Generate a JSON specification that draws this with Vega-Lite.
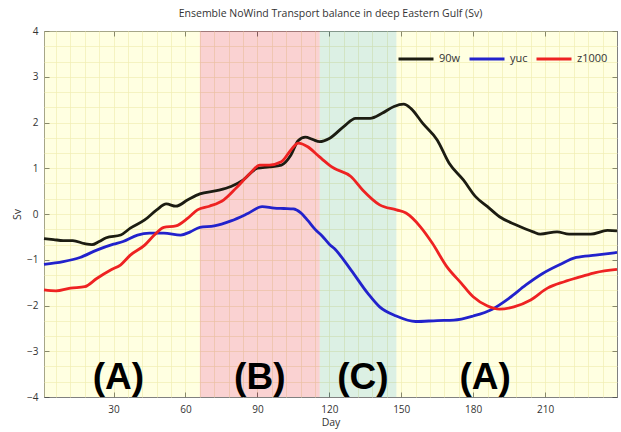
{
  "$schema": "https://vega.github.io/schema/vega-lite/v6.json",
  "width": 573,
  "height": 366,
  "autosize": {"type": "none"},
  "padding": {"left": 44, "top": 31, "right": 4, "bottom": 35},
  "title": {"text": "Ensemble NoWind Transport balance in deep Eastern Gulf (Sv)", "font": "Open Sans", "fontSize": 10.5, "fontWeight": "normal", "color": "#333333", "offset": 7, "anchor": "middle"},
  "config": {
    "view": {"stroke": "#808080", "strokeWidth": 1},
    "font": "Open Sans",
    "axis": {"labelFont": "Open Sans", "labelFontSize": 10, "labelColor": "#333333", "titleFont": "Open Sans", "titleFontSize": 10.5, "titleFontWeight": "normal", "titleColor": "#333333", "tickColor": "#555555"}
  },
  "datasets": {
    "bands": [
      {"start": 1, "end": 66, "phase": "A"},
      {"start": 66, "end": 116, "phase": "B"},
      {"start": 116, "end": 148, "phase": "C"},
      {"start": 148, "end": 240, "phase": "A"}
    ],
    "labels": [
      {"day": 32, "sv": -3.58, "label": "(A)"},
      {"day": 91, "sv": -3.58, "label": "(B)"},
      {"day": 134, "sv": -3.58, "label": "(C)"},
      {"day": 185, "sv": -3.58, "label": "(A)"}
    ],
    "series": [
      {"series": "90w", "day": 1, "sv": -0.54},
      {"series": "90w", "day": 5, "sv": -0.56},
      {"series": "90w", "day": 9, "sv": -0.58},
      {"series": "90w", "day": 13, "sv": -0.58},
      {"series": "90w", "day": 18, "sv": -0.65},
      {"series": "90w", "day": 21, "sv": -0.67},
      {"series": "90w", "day": 24, "sv": -0.6},
      {"series": "90w", "day": 27, "sv": -0.52},
      {"series": "90w", "day": 33, "sv": -0.46},
      {"series": "90w", "day": 37, "sv": -0.31},
      {"series": "90w", "day": 43, "sv": -0.13},
      {"series": "90w", "day": 48, "sv": 0.09},
      {"series": "90w", "day": 52, "sv": 0.22},
      {"series": "90w", "day": 56, "sv": 0.17},
      {"series": "90w", "day": 61, "sv": 0.31},
      {"series": "90w", "day": 66, "sv": 0.44},
      {"series": "90w", "day": 73, "sv": 0.51},
      {"series": "90w", "day": 79, "sv": 0.6},
      {"series": "90w", "day": 84, "sv": 0.74},
      {"series": "90w", "day": 90, "sv": 1.0},
      {"series": "90w", "day": 95, "sv": 1.03},
      {"series": "90w", "day": 100, "sv": 1.07},
      {"series": "90w", "day": 104, "sv": 1.29},
      {"series": "90w", "day": 107, "sv": 1.6},
      {"series": "90w", "day": 110, "sv": 1.68},
      {"series": "90w", "day": 113, "sv": 1.63},
      {"series": "90w", "day": 116, "sv": 1.58},
      {"series": "90w", "day": 120, "sv": 1.65},
      {"series": "90w", "day": 126, "sv": 1.91},
      {"series": "90w", "day": 131, "sv": 2.09},
      {"series": "90w", "day": 137, "sv": 2.09},
      {"series": "90w", "day": 142, "sv": 2.2},
      {"series": "90w", "day": 147, "sv": 2.35},
      {"series": "90w", "day": 151, "sv": 2.4},
      {"series": "90w", "day": 154, "sv": 2.31},
      {"series": "90w", "day": 159, "sv": 1.98},
      {"series": "90w", "day": 165, "sv": 1.62},
      {"series": "90w", "day": 170, "sv": 1.11},
      {"series": "90w", "day": 176, "sv": 0.74},
      {"series": "90w", "day": 181, "sv": 0.38},
      {"series": "90w", "day": 186, "sv": 0.16},
      {"series": "90w", "day": 191, "sv": -0.06},
      {"series": "90w", "day": 198, "sv": -0.24},
      {"series": "90w", "day": 205, "sv": -0.39},
      {"series": "90w", "day": 208, "sv": -0.44},
      {"series": "90w", "day": 215, "sv": -0.39},
      {"series": "90w", "day": 220, "sv": -0.44},
      {"series": "90w", "day": 229, "sv": -0.44},
      {"series": "90w", "day": 236, "sv": -0.36},
      {"series": "90w", "day": 240, "sv": -0.37},
      {"series": "yuc", "day": 1, "sv": -1.1},
      {"series": "yuc", "day": 9, "sv": -1.04},
      {"series": "yuc", "day": 16, "sv": -0.95},
      {"series": "yuc", "day": 23, "sv": -0.79},
      {"series": "yuc", "day": 30, "sv": -0.66},
      {"series": "yuc", "day": 34, "sv": -0.6},
      {"series": "yuc", "day": 40, "sv": -0.46},
      {"series": "yuc", "day": 45, "sv": -0.42},
      {"series": "yuc", "day": 51, "sv": -0.42},
      {"series": "yuc", "day": 58, "sv": -0.46},
      {"series": "yuc", "day": 62, "sv": -0.39},
      {"series": "yuc", "day": 66, "sv": -0.29},
      {"series": "yuc", "day": 72, "sv": -0.26},
      {"series": "yuc", "day": 79, "sv": -0.15},
      {"series": "yuc", "day": 86, "sv": 0.01},
      {"series": "yuc", "day": 92, "sv": 0.16},
      {"series": "yuc", "day": 97, "sv": 0.13},
      {"series": "yuc", "day": 101, "sv": 0.12},
      {"series": "yuc", "day": 105, "sv": 0.11},
      {"series": "yuc", "day": 108, "sv": 0.03},
      {"series": "yuc", "day": 111, "sv": -0.14},
      {"series": "yuc", "day": 114, "sv": -0.33},
      {"series": "yuc", "day": 117, "sv": -0.48},
      {"series": "yuc", "day": 120, "sv": -0.66},
      {"series": "yuc", "day": 122, "sv": -0.75},
      {"series": "yuc", "day": 129, "sv": -1.22},
      {"series": "yuc", "day": 136, "sv": -1.73},
      {"series": "yuc", "day": 141, "sv": -2.03},
      {"series": "yuc", "day": 148, "sv": -2.23},
      {"series": "yuc", "day": 156, "sv": -2.35},
      {"series": "yuc", "day": 165, "sv": -2.33},
      {"series": "yuc", "day": 172, "sv": -2.32},
      {"series": "yuc", "day": 180, "sv": -2.23},
      {"series": "yuc", "day": 188, "sv": -2.08},
      {"series": "yuc", "day": 195, "sv": -1.84},
      {"series": "yuc", "day": 202, "sv": -1.55},
      {"series": "yuc", "day": 209, "sv": -1.3},
      {"series": "yuc", "day": 216, "sv": -1.11},
      {"series": "yuc", "day": 223, "sv": -0.95},
      {"series": "yuc", "day": 231, "sv": -0.9},
      {"series": "yuc", "day": 240, "sv": -0.84},
      {"series": "z1000", "day": 1, "sv": -1.66},
      {"series": "z1000", "day": 6, "sv": -1.68},
      {"series": "z1000", "day": 12, "sv": -1.62},
      {"series": "z1000", "day": 18, "sv": -1.59},
      {"series": "z1000", "day": 23, "sv": -1.41},
      {"series": "z1000", "day": 29, "sv": -1.22},
      {"series": "z1000", "day": 33, "sv": -1.11},
      {"series": "z1000", "day": 37, "sv": -0.9},
      {"series": "z1000", "day": 43, "sv": -0.68},
      {"series": "z1000", "day": 47, "sv": -0.46},
      {"series": "z1000", "day": 51, "sv": -0.29},
      {"series": "z1000", "day": 56, "sv": -0.26},
      {"series": "z1000", "day": 61, "sv": -0.09},
      {"series": "z1000", "day": 65, "sv": 0.09},
      {"series": "z1000", "day": 70, "sv": 0.17},
      {"series": "z1000", "day": 76, "sv": 0.31},
      {"series": "z1000", "day": 81, "sv": 0.56},
      {"series": "z1000", "day": 87, "sv": 0.89},
      {"series": "z1000", "day": 91, "sv": 1.07},
      {"series": "z1000", "day": 95, "sv": 1.07},
      {"series": "z1000", "day": 100, "sv": 1.14},
      {"series": "z1000", "day": 104, "sv": 1.4},
      {"series": "z1000", "day": 107, "sv": 1.55},
      {"series": "z1000", "day": 111, "sv": 1.47},
      {"series": "z1000", "day": 115, "sv": 1.29},
      {"series": "z1000", "day": 117, "sv": 1.2},
      {"series": "z1000", "day": 120, "sv": 1.07},
      {"series": "z1000", "day": 122, "sv": 1.0},
      {"series": "z1000", "day": 129, "sv": 0.82},
      {"series": "z1000", "day": 134, "sv": 0.52},
      {"series": "z1000", "day": 141, "sv": 0.2},
      {"series": "z1000", "day": 148, "sv": 0.09},
      {"series": "z1000", "day": 152, "sv": 0.02},
      {"series": "z1000", "day": 158, "sv": -0.28},
      {"series": "z1000", "day": 163, "sv": -0.64},
      {"series": "z1000", "day": 169, "sv": -1.15},
      {"series": "z1000", "day": 175, "sv": -1.51},
      {"series": "z1000", "day": 180, "sv": -1.81},
      {"series": "z1000", "day": 186, "sv": -2.01},
      {"series": "z1000", "day": 191, "sv": -2.08},
      {"series": "z1000", "day": 197, "sv": -2.03},
      {"series": "z1000", "day": 204, "sv": -1.88},
      {"series": "z1000", "day": 211, "sv": -1.62},
      {"series": "z1000", "day": 218, "sv": -1.48},
      {"series": "z1000", "day": 225, "sv": -1.37},
      {"series": "z1000", "day": 231, "sv": -1.28},
      {"series": "z1000", "day": 240, "sv": -1.21}
    ]
  },
  "layer": [
    {
      "data": {"name": "bands"},
      "mark": {"type": "rect", "fillOpacity": 0.3},
      "encoding": {
        "x": {"field": "start", "type": "quantitative", "scale": {"domain": [1, 240], "nice": false, "zero": false},
          "axis": {"orient": "bottom", "values": [6,12,18,24,30,36,42,48,54,60,66,72,78,84,90,96,102,108,114,120,126,132,138,144,150,156,162,168,174,180,186,192,198,204,210,216,222,228,234], "grid": true, "gridColor": "#ebe7bd", "gridWidth": 0.7, "labels": false, "ticks": false, "domain": false, "title": null}},
        "x2": {"field": "end"},
        "fill": {"field": "phase", "type": "nominal", "scale": {"domain": ["A", "B", "C"], "range": ["#FFFF9B", "#EE6969", "#8ACDA5"]}, "legend": null}
      }
    },
    {
      "mark": {"type": "rule", "color": "#9a9a9a", "strokeWidth": 1.5, "strokeDash": [7, 5]},
      "encoding": {
        "y": {"datum": 0, "type": "quantitative", "scale": {"domain": [-4, 4], "nice": false},
          "axis": {"orient": "left", "values": [-3.6667,-3.3333,-3,-2.6667,-2.3333,-2,-1.6667,-1.3333,-1,-0.6667,-0.3333,0,0.3333,0.6667,1,1.3333,1.6667,2,2.3333,2.6667,3,3.3333,3.6667], "grid": true, "gridColor": "#ebe7bd", "gridWidth": 0.7, "labels": false, "ticks": false, "domain": false, "title": null}}
      }
    },
    {
      "mark": {"type": "rule", "color": "#66dd44", "strokeWidth": 2},
      "encoding": {
        "x": {"datum": 116, "type": "quantitative", "axis": null}
      }
    },
    {
      "data": {"name": "series"},
      "mark": {"type": "line", "strokeWidth": 2.8, "interpolate": "monotone"},
      "encoding": {
        "x": {"field": "day", "type": "quantitative",
          "axis": {"orient": "bottom", "values": [30, 60, 90, 120, 150, 180, 210], "grid": false, "domain": false, "tickSize": -5, "labelPadding": 12, "title": "Day", "titlePadding": 3}},
        "y": {"field": "sv", "type": "quantitative",
          "axis": {"orient": "left", "values": [-4, -3, -2, -1, 0, 1, 2, 3, 4], "grid": false, "domain": false, "tickSize": -5, "labelPadding": 11, "title": "Sv", "titlePadding": 4}},
        "color": {"field": "series", "type": "nominal", "scale": {"domain": ["90w", "yuc", "z1000"], "range": ["#1c1c12", "#2222cc", "#ee2222"]},
          "legend": {"orient": "top-right", "direction": "horizontal", "title": null, "symbolType": "stroke", "symbolStrokeWidth": 3, "symbolSize": 1225, "labelFont": "Open Sans", "labelFontSize": 11, "labelColor": "#333333", "labelOffset": 4, "columnPadding": 2, "gridAlign": "none", "offset": 9}}
      }
    },
    {
      "data": {"name": "labels"},
      "mark": {"type": "text", "font": "Liberation Sans", "fontWeight": "bold", "fontSize": 37, "align": "center", "baseline": "middle", "color": "#000000"},
      "encoding": {
        "x": {"field": "day", "type": "quantitative",
          "axis": {"orient": "top", "values": [30, 60, 90, 120, 150, 180, 210], "grid": false, "domain": false, "labels": false, "tickSize": -5, "title": null}},
        "y": {"field": "sv", "type": "quantitative",
          "axis": {"orient": "right", "values": [-4, -3, -2, -1, 0, 1, 2, 3, 4], "grid": false, "domain": false, "labels": false, "tickSize": -5, "title": null}},
        "text": {"field": "label"}
      }
    }
  ],
  "resolve": {"axis": {"x": "independent", "y": "independent"}}
}
